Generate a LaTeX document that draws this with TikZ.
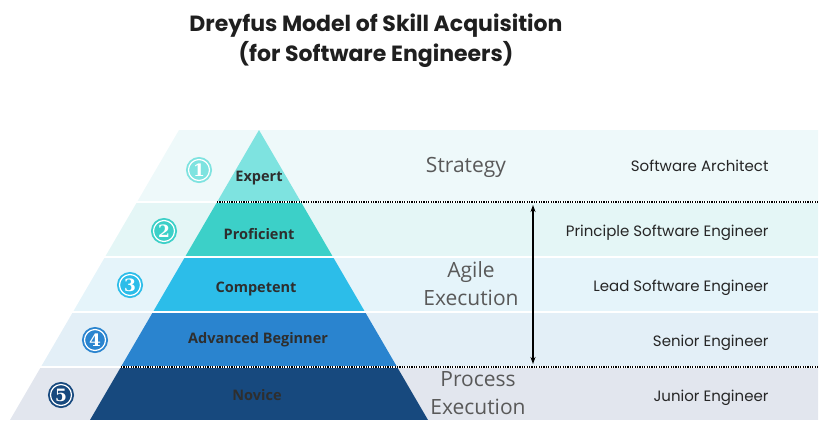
\documentclass[tikz,border=0pt]{standalone}
\usepackage{fontspec}
\setmainfont{Open Sans}
\newfontfamily\popfont{Poppins}
\newfontfamily\numfont{DejaVu Serif}
\usetikzlibrary{arrows.meta}

\definecolor{expertc}{HTML}{7EE3E0}
\definecolor{proficientc}{HTML}{3CD0C8}
\definecolor{competentc}{HTML}{2CBDE9}
\definecolor{advancedc}{HTML}{2A84CF}
\definecolor{novicec}{HTML}{17497E}
\definecolor{bandA}{HTML}{EEF9FA}
\definecolor{bandB}{HTML}{E4F6F6}
\definecolor{bandC}{HTML}{E5F4FA}
\definecolor{bandD}{HTML}{E3EFF7}
\definecolor{bandE}{HTML}{E2E6EE}

\begin{document}
\begin{tikzpicture}[
        x=1pt, y=-1pt,
        title/.style={font=\popfont\bfseries\fontsize{22}{30}\selectfont, text=black!88, align=center},
        level/.style={font=\bfseries\fontsize{14.5}{16}\selectfont, text=black!82},
        phase/.style={font=\fontsize{21}{28}\selectfont, text=black!65, align=center},
        role/.style={font=\popfont\fontsize{15}{16}\selectfont, text=black!85, anchor=east},
        badge/.style={circle, minimum size=21pt, inner sep=0pt, fill=#1, draw=white, line width=1.2pt,
            preaction={draw=#1, line width=5pt}, text=white, font=\numfont\bfseries\fontsize{17}{17}\selectfont},
        sep/.style={line width=1.1pt, dash pattern=on 1.1pt off 1.3pt}
    ]

    \useasboundingbox (0,0) rectangle (835,440);

    \node[title] (title) at (376,41) {Dreyfus Model of Skill Acquisition\\(for Software Engineers)};

    % bands
    \begin{scope}
        \clip (179,130) -- (10,420) -- (818,420) -- (818,130) -- cycle;
        \foreach \ytop/\ybot/\col in {130/201/bandA, 203/256/bandB, 258/311/bandC, 313/366/bandD, 368/420/bandE}
            \fill[\col] (0,\ytop) rectangle (835,\ybot);
    \end{scope}

    % pyramid
    \begin{scope}
        \clip (259,130) -- (90,420) -- (428,420) -- cycle;
        \foreach \ytop/\ybot/\col in {130/201/expertc, 203/256/proficientc, 258/311/competentc, 313/366/advancedc, 368/420/novicec}
            \fill[\col] (0,\ytop) rectangle (835,\ybot);
    \end{scope}

    \draw[sep] (217,202) -- (818,202);
    \draw[sep] (121,367) -- (818,367);

    \node[badge=expertc] (one) at (199,170) {1};
    \node[badge=proficientc] (two) at (164,231) {2};
    \node[badge=competentc] (three) at (130,285) {3};
    \node[badge=advancedc] (four) at (95,340) {4};
    \node[badge=novicec] (five) at (61,395) {5};

    \node[level] (expert) at (259,178) {Expert};
    \node[level] (proficient) at (259,234) {Proficient};
    \node[level] (competent) at (256,289) {Competent};
    \node[level] (advanced) at (258,340) {Advanced Beginner};
    \node[level] (novice) at (257,395) {Novice};

    \node[phase] (strategy) at (466,167) {Strategy};
    \node[phase] (agile) at (471,284) {Agile\\Execution};
    \node[phase] (process) at (478,393) {Process\\Execution};

    \node[role] (architect) at (772,166) {Software Architect};
    \node[role] (principal) at (772,233) {Principle Software Engineer};
    \node[role] (lead) at (772,288) {Lead Software Engineer};
    \node[role] (senior) at (772,343) {Senior Engineer};
    \node[role] (junior) at (772,398) {Junior Engineer};

    \coordinate (agiletop) at (533,205);
    \coordinate (agilebot) at (533,364);
    \draw[<->, >={Stealth[length=7pt, width=5pt]}, line width=1.3pt] (agiletop) -- (agilebot);

\end{tikzpicture}
\end{document}
